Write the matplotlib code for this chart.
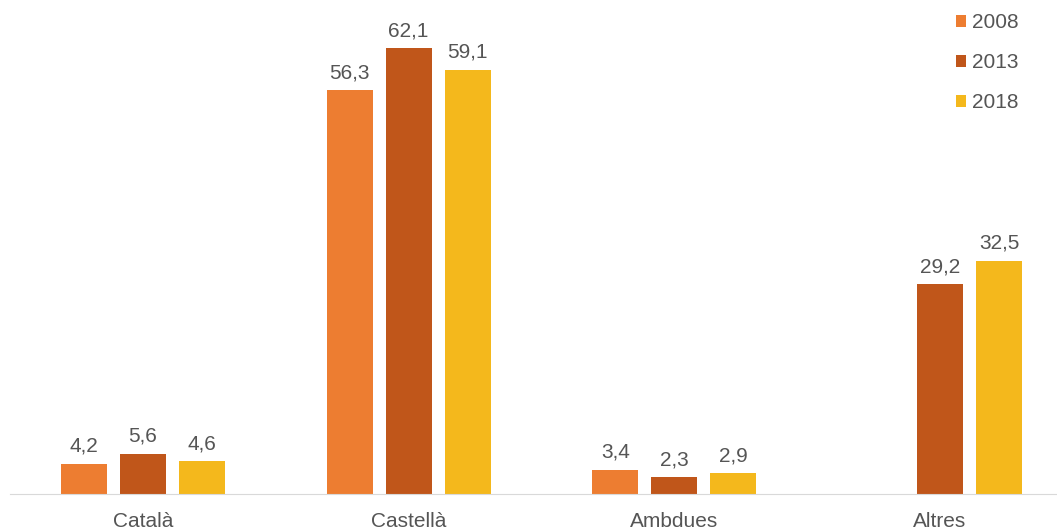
import numpy as np
import matplotlib.pyplot as plt

categories = ["Català", "Castellà", "Ambdues", "Altres"]
years = ["2008", "2013", "2018"]
v2008 = [4.2, 56.3, 3.4, np.nan]
v2013 = [5.6, 62.1, 2.3, 29.2]
v2018 = [4.6, 59.1, 2.9, 32.5]

colors = ["#ED7D31", "#C0561A", "#F4B81C"]
text_color = "#555555"
plt.rcParams["font.family"] = ["Liberation Sans", "DejaVu Sans"]

fig = plt.figure(figsize=(10.57, 5.31), dpi=100)
ax = fig.add_axes([10 / 1057, 37 / 531, 1047 / 1057, 488 / 531])

x = np.arange(len(categories))
step = 0.222
width = 0.173
for i, (vals, yr) in enumerate(zip([v2008, v2013, v2018], years)):
    pos = x + (i - 1) * step
    ax.bar(pos, vals, width=width, color=colors[i], label=yr)
    for px, v in zip(pos, vals):
        if np.isnan(v):
            continue
        ax.text(px, v + 1.1, f"{v:.1f}".replace(".", ","), ha="center", va="bottom",
                fontsize=15, color=text_color)

ax.set_xlim(-0.5, 3.44)
ax.set_ylim(0, 68)
ax.set_xticks(x)
ax.set_xticklabels(categories, fontsize=15, color=text_color)
ax.tick_params(axis="x", length=0, pad=13)
ax.set_yticks([])
for s in ["top", "right", "left"]:
    ax.spines[s].set_visible(False)
ax.spines["bottom"].set_color("#d9d9d9")

leg = fig.legend(loc="upper right", bbox_to_anchor=(1037 / 1057, 1.01), frameon=False,
                 fontsize=15, handlelength=0.5, handleheight=0.5, handletextpad=0.25,
                 labelspacing=1.0, labelcolor=text_color)

fig.savefig("out.png", dpi=100)
